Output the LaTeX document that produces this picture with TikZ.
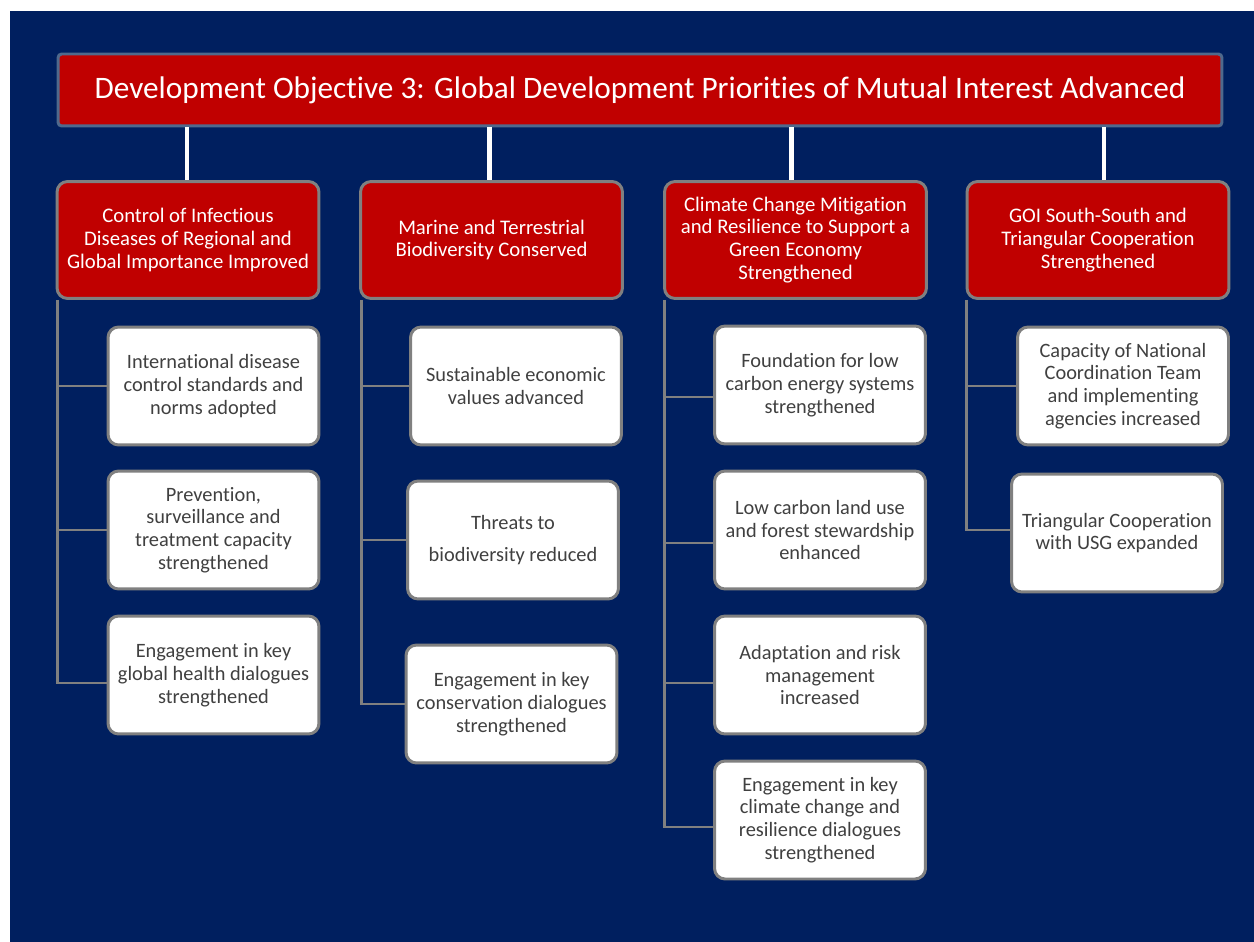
\documentclass[tikz,border=0pt]{standalone}
\usepackage{fontspec}
\setmainfont{Carlito}[Ligatures=NoCommon]
\usetikzlibrary{positioning,calc}
\definecolor{navybg}{RGB}{0,31,95}
\definecolor{objred}{RGB}{192,0,0}
\definecolor{boxgray}{RGB}{128,128,128}
\definecolor{titleedge}{RGB}{79,105,140}
\definecolor{bodytext}{RGB}{64,64,64}

\tikzset{
  objbox/.style={draw=titleedge, line width=1.7pt, fill=objred, rounded corners=2pt, minimum width=23.28cm, minimum height=1.44cm, text=white, font=\fontsize{17.8}{20}\selectfont},
  headbox/.style={draw=boxgray, line width=1.7pt, fill=objred, rounded corners=6pt, minimum width=5.24cm, minimum height=2.34cm, align=center, text=white, font=\fontsize{11.8}{13}\selectfont},
  resbox/.style={draw=boxgray, line width=1.7pt, fill=white, rounded corners=6pt, minimum width=4.22cm, minimum height=2.36cm, align=center, text=bodytext, font=\fontsize{11.6}{13}\selectfont},
  link/.style={draw=white, line width=2.3pt},
  tree/.style={draw=boxgray, line width=1.7pt}
}

\begin{document}
\begin{tikzpicture}[x=0.02cm, y=-0.02cm]
    \useasboundingbox (0,0) rectangle (1254,942);
    \fill[navybg] (10,11) rectangle (1254,942);

    \node (objective) [objbox] at (640,90) {Development Objective 3: Global Development Priorities of Mutual Interest Advanced};

    \node (head1) [headbox] at (188,240) {Control of Infectious\\Diseases of Regional and\\Global Importance Improved};
    \node (head2) [headbox] at (491.5,240) {Marine and Terrestrial\\Biodiversity Conserved};
    \node (head3) [headbox] at (795.5,240) {Climate Change Mitigation\\and Resilience to Support a\\Green Economy\\Strengthened};
    \node (head4) [headbox] at (1098,240) {GOI South-South and\\Triangular Cooperation\\Strengthened};

    \node (dis1) [resbox] at (213.5,386) {International disease\\control standards and\\norms adopted};
    \node (dis2) [resbox] at (213.5,530) {Prevention,\\surveillance and\\treatment capacity\\strengthened};
    \node (dis3) [resbox] at (213.5,675) {Engagement in key\\global health dialogues\\strengthened};

    \node (bio1) [resbox] at (516,386) {Sustainable economic\\values advanced};
    \node (bio2) [resbox] at (513,540) {Threats to\\[5pt]biodiversity reduced};
    \node (bio3) [resbox] at (511.5,704) {Engagement in key\\conservation dialogues\\strengthened};

    \node (clim1) [resbox] at (820,385) {Foundation for low\\carbon energy systems\\strengthened};
    \node (clim2) [resbox] at (820,530) {Low carbon land use\\and forest stewardship\\enhanced};
    \node (clim3) [resbox] at (820,675) {Adaptation and risk\\management\\increased};
    \node (clim4) [resbox] at (820,820) {Engagement in key\\climate change and\\resilience dialogues\\strengthened};

    \node (coop1) [resbox] at (1123,386) {Capacity of National\\Coordination Team\\and implementing\\agencies increased};
    \node (coop2) [resbox] at (1117,533) {Triangular Cooperation\\with USG expanded};

    % objective to sub-objectives
    \draw [link] ($(head1.north)+(-1,0)$) -- ($(head1.north |- objective.south)+(-1,0)$);
    \draw [link] ($(head2.north)+(-2,0)$) -- ($(head2.north |- objective.south)+(-2,0)$);
    \draw [link] ($(head3.north)+(-4,0)$) -- ($(head3.north |- objective.south)+(-4,0)$);
    \draw [link] ($(head4.north)+(6,0)$) -- ($(head4.north |- objective.south)+(6,0)$);

    % sub-objectives to results
    \coordinate (t1) at ($(head1.south west)+(2,0)$);
    \coordinate (t2) at ($(head2.south west)+(2,0)$);
    \coordinate (t3) at ($(head3.south west)+(1,0)$);
    \coordinate (t4) at ($(head4.south west)+(1,0)$);

    \draw [tree] (t1) |- ($(dis3.west)+(0,8)$);
    \draw [tree] (t1 |- dis1.west) -- (dis1.west);
    \draw [tree] (t1 |- dis2.west) -- (dis2.west);

    \draw [tree] (t2) |- (bio3.west);
    \draw [tree] (t2 |- bio1.west) -- (bio1.west);
    \draw [tree] (t2 |- bio2.west) -- (bio2.west);

    \draw [tree] (t3) |- ($(clim4.west)+(0,7)$);
    \draw [tree] ($(t3 |- clim1.west)+(0,12)$) -- ($(clim1.west)+(0,12)$);
    \draw [tree] ($(t3 |- clim2.west)+(0,13)$) -- ($(clim2.west)+(0,13)$);
    \draw [tree] ($(t3 |- clim3.west)+(0,8)$) -- ($(clim3.west)+(0,8)$);

    \draw [tree] (t4) |- ($(coop2.west)+(0,-3)$);
    \draw [tree] (t4 |- coop1.west) -- (coop1.west);

\end{tikzpicture}
\end{document}
